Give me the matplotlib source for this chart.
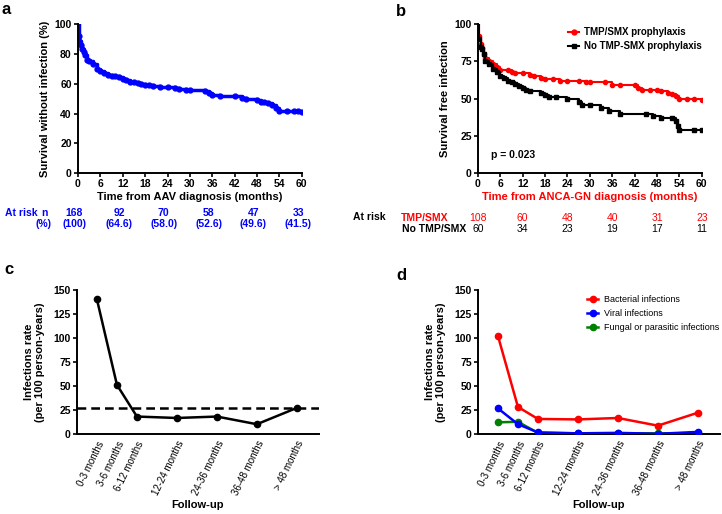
import matplotlib
matplotlib.use('Agg')
import matplotlib.pyplot as plt
import matplotlib.transforms as mtransforms

plt.rcParams['font.family'] = ['Liberation Sans', 'DejaVu Sans']
plt.rcParams['font.size'] = 7.5

BLUE = '#0000ff'
RED = '#ff0000'
GREEN = '#008000'

# --- Panel a: overall survival without infection ---
a_time = [0, 0.2, 0.4, 0.7, 1, 1.5, 2, 2.5, 3, 4, 5, 6, 7, 8, 9, 10, 11, 12, 13,
          14, 15, 16, 17, 18, 19, 20, 22, 24, 26, 27, 29, 30, 34, 35, 36, 38, 42,
          44, 45, 48, 49, 50, 51, 52, 53, 54, 56, 58, 59, 60]
a_surv = [100, 92, 89, 86, 83, 81, 79, 76, 75, 73, 70, 68.5, 67, 66, 65.5, 65,
          64.5, 63.5, 62.5, 61.5, 61, 60.5, 60, 59.5, 59, 58.5, 58, 58, 57.5, 56.5,
          56, 55.5, 55, 53.5, 52.5, 52, 51.5, 50.5, 49.5, 49, 48, 47.5, 47, 46, 44,
          41.5, 41.5, 41.5, 41.5, 41]
a_risk_time = [0, 12, 24, 36, 48, 60]
a_risk_n = ['168', '92', '70', '58', '47', '33']
a_risk_pct = ['(100)', '(64.6)', '(58.0)', '(52.6)', '(49.6)', '(41.5)']

# --- Panel b: TMP/SMX vs no TMP/SMX ---
b_tmp_time = [0, 0.3, 0.7, 1, 1.5, 2, 3, 4, 5, 6, 8, 9, 10, 12, 14, 15, 17, 18,
              20, 22, 24, 27, 29, 30, 34, 36, 38, 42, 43, 44, 46, 48, 49, 51, 52,
              53, 54, 56, 58, 60]
b_tmp_surv = [100, 92, 87, 84, 80, 77, 75, 73, 71, 69.5, 69, 68, 67.5, 67, 66,
              65, 64, 63.5, 63, 62, 62, 62, 61.5, 61, 61, 59.5, 59.5, 59, 57.5, 56,
              55.5, 55.5, 55, 54, 53, 51.5, 50, 50, 50, 49]
b_no_time = [0, 0.3, 0.7, 1, 1.5, 2, 3, 4, 5, 6, 7, 8, 9, 10, 11, 12, 13, 14, 17,
             18, 19, 21, 24, 27, 28, 30, 33, 35, 38, 45, 47, 49, 52, 53, 53.5, 54,
             58, 60]
b_no_surv = [100, 90, 85, 83, 80, 75, 73, 70, 68, 65.5, 64, 62, 61, 60, 58.5, 57,
             55.5, 55, 53.5, 52.5, 51, 51, 50, 48, 46, 45.5, 44, 42, 40, 40, 38.5,
             37, 37, 35, 32, 29, 29, 29]
b_risk_time = [0, 12, 24, 36, 48, 60]
b_risk_tmp = ['108', '60', '48', '40', '31', '23']
b_risk_no = ['60', '34', '23', '19', '17', '11']

# --- Panels c and d: infection rates by follow-up period ---
periods = ['0-3 months', '3-6 months', '6-12 months', '12-24 months',
           '24-36 months', '36-48 months', '> 48 months']
period_pos = [1, 2, 3, 5, 7, 9, 11]
c_rate = [140, 51, 18, 16.5, 18, 10, 27]
c_overall = 27
d_bacterial = [102, 28, 15.5, 15, 16.5, 8.5, 22]
d_viral = [26.5, 10, 1.5, 0.5, 1, 0, 2]
d_fungal = [12, 12.5, 1, 0.5, 0.5, 0.5, 0.5]


def style_axes(ax):
    for side in ['top', 'right']:
        ax.spines[side].set_visible(False)
    for side in ['left', 'bottom']:
        ax.spines[side].set_linewidth(1.4)
    ax.tick_params(width=1.2, length=3, labelsize=7.5, pad=1.5)
    for lbl in ax.get_xticklabels() + ax.get_yticklabels():
        lbl.set_fontweight('bold')


def style_rate_axes(ax):
    ax.set_xlim(0, 12.1)
    ax.set_ylim(0, 150)
    ax.set_yticks(range(0, 151, 25))
    ax.set_xticks(period_pos)
    style_axes(ax)
    ax.set_xticklabels(periods, rotation=64, ha='right', rotation_mode='anchor',
                       fontsize=7, fontweight='normal')
    ax.tick_params(axis='x', length=0, pad=4)
    ax.set_ylabel('Infections rate\n(per 100 person-years)', fontweight='bold',
                  fontsize=8, labelpad=6)
    ax.set_xlabel('Follow-up', fontweight='bold', fontsize=8)
    ax.xaxis.label.set_va('center')
    ax.xaxis.set_label_coords(0.5, -(505 - 434) / 144)


fig = plt.figure(figsize=(7.22, 5.14), dpi=100)

# ---- a ----
ax_a = fig.add_axes([0.108, 0.663, 0.310, 0.290])
ax_a.step(a_time, a_surv, where='post', color=BLUE, lw=2.5)
ax_a.plot(a_time[1:], a_surv[1:], 'o', color=BLUE, ms=3.5)
ax_a.set_xlim(0, 60)
ax_a.set_ylim(0, 100)
ax_a.set_xticks(range(0, 61, 6))
ax_a.set_yticks(range(0, 101, 20))
ax_a.set_xlabel('Time from AAV diagnosis (months)', fontweight='bold',
                fontsize=8, labelpad=2)
ax_a.set_ylabel('Survival without infection (%)', fontweight='bold',
                fontsize=8, labelpad=3)
style_axes(ax_a)

tr_a = mtransforms.blended_transform_factory(ax_a.transData, fig.transFigure)
fig.text(5 / 722, 1 - 213 / 514, 'At risk', color=BLUE, fontweight='bold',
         fontsize=7.5, va='center')
fig.text(44 / 722, 1 - 213 / 514, 'n', color=BLUE, fontweight='bold',
         fontsize=7.5, va='center', ha='center')
fig.text(44 / 722, 1 - 224 / 514, '(%)', color=BLUE, fontweight='bold',
         fontsize=7.5, va='center', ha='center')
for t, n, p in zip(a_risk_time, a_risk_n, a_risk_pct):
    ax_a.text(t - 1, 1 - 213 / 514, n, transform=tr_a, color=BLUE,
              fontweight='bold', fontsize=7.5, ha='center', va='center')
    ax_a.text(t - 1, 1 - 224 / 514, p, transform=tr_a, color=BLUE,
              fontweight='bold', fontsize=7.5, ha='center', va='center')

# ---- b ----
ax_b = fig.add_axes([0.662, 0.663, 0.310, 0.290])
ax_b.step(b_tmp_time, b_tmp_surv, where='post', color=RED, lw=1.5)
ax_b.plot(b_tmp_time[1:], b_tmp_surv[1:], 'o', color=RED, ms=3)
ax_b.step(b_no_time, b_no_surv, where='post', color='black', lw=1.5)
ax_b.plot(b_no_time[1:], b_no_surv[1:], 's', color='black', ms=3)
ax_b.plot([], [], '-o', color=RED, lw=1.5, ms=3.5, label='TMP/SMX prophylaxis')
ax_b.plot([], [], '-s', color='black', lw=1.5, ms=3.5,
          label='No TMP-SMX prophylaxis')
ax_b.set_xlim(0, 60)
ax_b.set_ylim(0, 100)
ax_b.set_xticks(range(0, 61, 6))
ax_b.set_yticks(range(0, 101, 25))
ax_b.set_xlabel('Time from ANCA-GN diagnosis (months)', fontweight='bold',
                fontsize=8, color=RED, labelpad=2)
ax_b.set_ylabel('Survival free infection', fontweight='bold', fontsize=8,
                labelpad=3)
ax_b.text(3.5, 12, 'p = 0.023', fontweight='bold', fontsize=7.5, va='center')
ax_b.legend(loc='upper right', bbox_to_anchor=(1.04, 1.04), frameon=False,
            handlelength=1.2, handletextpad=0.5, labelspacing=0.45,
            prop={'weight': 'bold', 'size': 7})
style_axes(ax_b)

tr_b = mtransforms.blended_transform_factory(ax_b.transData, fig.transFigure)
fig.text(353 / 722, 1 - 217 / 514, 'At risk', fontweight='bold', fontsize=7.5,
         va='center')
fig.text(401 / 722, 1 - 218 / 514, 'TMP/SMX', color=RED, fontweight='bold',
         fontsize=7.5, va='center')
fig.text(402 / 722, 1 - 229 / 514, 'No TMP/SMX', fontweight='bold',
         fontsize=7.5, va='center')
for t, n1, n2 in zip(b_risk_time, b_risk_tmp, b_risk_no):
    ax_b.text(t, 1 - 218 / 514, n1, transform=tr_b, color=RED, fontsize=7.5,
              ha='center', va='center')
    ax_b.text(t, 1 - 229 / 514, n2, transform=tr_b, fontsize=7.5,
              ha='center', va='center')

# ---- c ----
ax_c = fig.add_axes([0.1066, 0.156, 0.335, 0.280])
ax_c.axhline(c_overall, color='black', lw=1.8, ls=(0, (3.5, 2)))
ax_c.plot(period_pos, c_rate, '-o', color='black', lw=1.8, ms=4.5)
style_rate_axes(ax_c)

# ---- d ----
ax_d = fig.add_axes([0.662, 0.156, 0.335, 0.280])
ax_d.plot(period_pos, d_bacterial, '-o', color=RED, lw=1.8, ms=4.5,
          label='Bacterial infections')
ax_d.plot(period_pos, d_fungal, '-o', color=GREEN, lw=1.8, ms=4.5,
          label='Fungal or parasitic infections', zorder=2)
ax_d.plot(period_pos, d_viral, '-o', color=BLUE, lw=1.8, ms=4.5,
          label='Viral infections', zorder=3)
handles, labels = ax_d.get_legend_handles_labels()
order = [0, 2, 1]
ax_d.legend([handles[i] for i in order], [labels[i] for i in order],
            loc='upper left', bbox_to_anchor=(0.43, 1.0), frameon=False,
            handlelength=1.2, handletextpad=0.6, labelspacing=0.55,
            fontsize=6.5, borderaxespad=0.2)
style_rate_axes(ax_d)

# panel letters
for x, y, s in [(2, 10, 'a'), (396, 12, 'b'), (4, 270, 'c'), (396, 276, 'd')]:
    fig.text(x / 722, 1 - y / 514, s, fontweight='bold', fontsize=12,
             va='center')

fig.savefig('out.png', dpi=100)
